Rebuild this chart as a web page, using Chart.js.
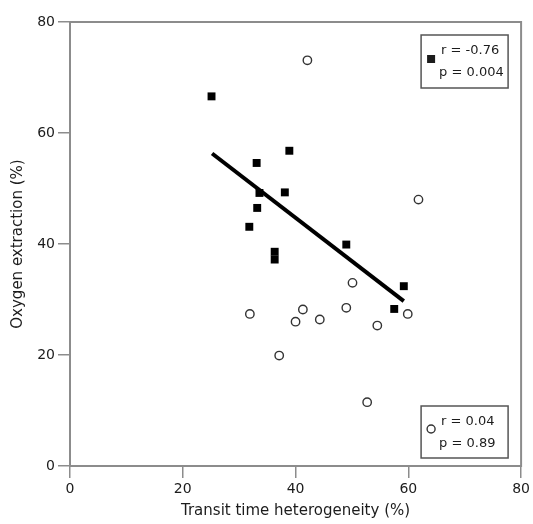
<!DOCTYPE html>
<html>
<head>
<meta charset="utf-8">
<script src="https://cdn.jsdelivr.net/npm/chart.js@4.4.1/dist/chart.umd.min.js"></script>
<style>
  html, body { margin: 0; padding: 0; background: #fff; }
  #wrap { width: 533px; height: 524px; }
</style>
</head>
<body>
<div id="wrap"><canvas id="chart"></canvas></div>
<script>
// filled squares
const solidX = [25.1, 33.1, 38.9, 33.6, 38.1, 33.2, 31.8, 36.3, 36.3, 49.0, 59.2, 57.5];
const solidY = [66.6, 54.6, 56.8, 49.2, 49.3, 46.5, 43.1, 38.6, 37.2, 39.9, 32.4, 28.3];
// open circles
const openX = [42.1, 61.8, 50.1, 41.3, 40.0, 44.3, 49.0, 54.5, 59.9, 52.7, 31.9, 37.1];
const openY = [73.1, 48.0, 33.0, 28.2, 26.0, 26.4, 28.5, 25.3, 27.4, 11.5, 27.4, 19.9];
// regression line for the filled group
const fitX = [25.2, 59.2];
const fitY = [56.3, 29.7];

const axisTicks = [0, 20, 40, 60, 80];
const solidStats = ['r = -0.76', 'p = 0.004'];
const openStats = ['r = 0.04', 'p = 0.89'];

const FONT = "'DejaVu Sans', sans-serif";
const AXIS_GRAY = '#8c8c8c';
const INK = '#1c1c1c';

const pts = (xs, ys) => xs.map((x, i) => ({ x: x, y: ys[i] }));

/* frame round the plot area (left/bottom axes plus top/right edges) */
const framePlugin = {
  id: 'frame',
  beforeDatasetsDraw(chart) {
    const { ctx, chartArea: a } = chart;
    ctx.save();
    ctx.strokeStyle = AXIS_GRAY;
    ctx.lineWidth = 2;
    ctx.strokeRect(a.left, a.top, a.right - a.left, a.bottom - a.top);
    ctx.restore();
  }
};

/* the two r / p boxes with their group marker */
function statBox(ctx, x, y, w, h, lines, marker) {
  ctx.save();
  ctx.strokeStyle = '#555';
  ctx.lineWidth = 1.5;
  ctx.strokeRect(x, y, w, h);
  ctx.fillStyle = INK;
  ctx.font = '13px ' + FONT;
  ctx.textBaseline = 'middle';
  ctx.textAlign = 'left';
  ctx.fillText(lines[0], x + 20, y + 16);
  ctx.fillText(lines[1], x + 18, y + 38);
  const mx = x + 10, my = y + 24;
  if (marker === 'square') {
    ctx.fillRect(mx - 4, my - 4, 8, 8);
  } else {
    ctx.beginPath();
    ctx.arc(mx, my - 1, 4, 0, Math.PI * 2);
    ctx.fillStyle = '#fff';
    ctx.fill();
    ctx.strokeStyle = '#333';
    ctx.lineWidth = 1.4;
    ctx.stroke();
  }
  ctx.restore();
}

const statsPlugin = {
  id: 'stats',
  afterDatasetsDraw(chart) {
    const { ctx, chartArea: a } = chart;
    statBox(ctx, a.right - 100, a.top + 13, 87, 53, solidStats, 'square');
    statBox(ctx, a.right - 100, a.bottom - 60, 87, 52, openStats, 'circle');
  }
};

const axisOpts = (title, isY) => ({
  type: 'linear',
  min: 0,
  max: 80,
  afterBuildTicks: (s) => { s.ticks = axisTicks.map(v => ({ value: v })); },
  afterFit: (s) => {
    if (isY) s.width = 70; else s.height = 58;
  },
  grid: {
    display: true,
    drawOnChartArea: false,
    drawTicks: true,
    tickLength: 12,
    color: AXIS_GRAY,
    lineWidth: 1.5
  },
  border: { display: false },
  ticks: {
    color: INK,
    padding: 3,
    font: { family: FONT, size: 14 }
  },
  title: {
    display: true,
    text: title,
    color: INK,
    font: { family: FONT, size: 15 },
    padding: isY ? { top: 9 } : { bottom: 4 }
  }
});

new Chart(document.getElementById('chart'), {
  type: 'scatter',
  data: {
    datasets: [
      {
        label: 'fit',
        type: 'line',
        data: pts(fitX, fitY),
        borderColor: '#000',
        borderWidth: 4,
        pointRadius: 0,
        fill: false,
        order: 1
      },
      {
        label: 'solid',
        data: pts(solidX, solidY),
        pointStyle: 'rect',
        pointRadius: 5.6,
        backgroundColor: '#000',
        borderColor: '#000',
        borderWidth: 0,
        order: 2
      },
      {
        label: 'open',
        data: pts(openX, openY),
        pointStyle: 'circle',
        pointRadius: 4.2,
        backgroundColor: '#fff',
        borderColor: '#333',
        borderWidth: 1.4,
        order: 3
      }
    ]
  },
  options: {
    responsive: true,
    maintainAspectRatio: false,
    animation: false,
    layout: { padding: { top: 22, right: 10, left: 0, bottom: 0 } },
    plugins: {
      legend: { display: false },
      tooltip: { enabled: false }
    },
    scales: {
      x: axisOpts('Transit time heterogeneity (%)', false),
      y: axisOpts('Oxygen extraction (%)', true)
    }
  },
  plugins: [framePlugin, statsPlugin]
});
</script>
</body>
</html>
